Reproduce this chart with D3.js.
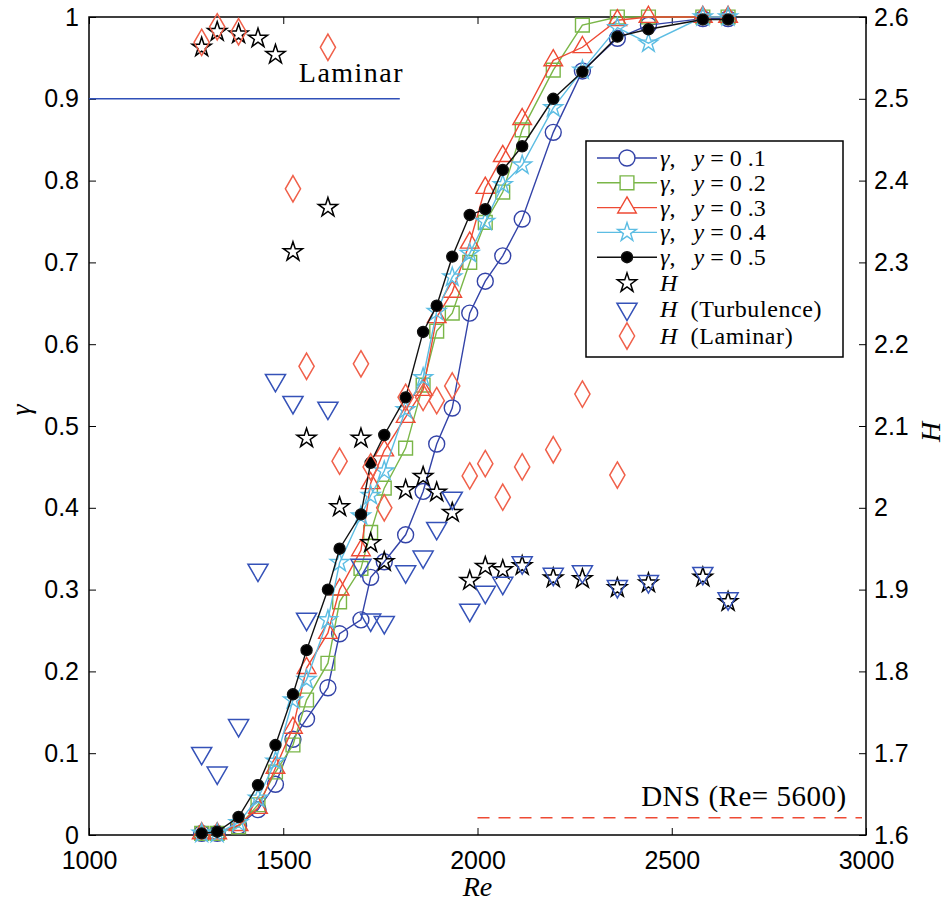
<!DOCTYPE html>
<html><head><meta charset="utf-8">
<script src="https://cdn.jsdelivr.net/npm/d3@7"></script>
<style>body{margin:0;background:#fff}svg{display:block}</style>
</head><body><svg id="c" width="948" height="910"></svg>
<script>
const re = [1290,1330,1385,1435,1480,1525,1560,1615,1645,1700,1725,1760,1815,1860,1895,1935,1980,2020,2065,2115,2195,2270,2360,2440,2580,2645];
const g1 = [0.002,0.002,0.011,0.031,0.062,0.117,0.142,0.180,0.246,0.263,0.315,0.334,0.367,0.420,0.478,0.522,0.638,0.677,0.708,0.753,0.859,0.934,0.974,0.990,0.998,0.998];
const g2 = [0.002,0.002,0.010,0.037,0.077,0.110,0.165,0.210,0.285,0.326,0.370,0.424,0.473,0.550,0.616,0.638,0.700,0.749,0.786,0.862,0.935,0.990,1.0,1.0,1.0,1.0];
const g3 = [0.002,0.002,0.012,0.033,0.082,0.131,0.204,0.247,0.300,0.348,0.430,0.470,0.511,0.544,0.633,0.664,0.724,0.791,0.830,0.875,0.947,0.963,0.996,1.0,1.0,1.0];
const g4 = [0.002,0.002,0.015,0.045,0.090,0.165,0.190,0.263,0.333,0.390,0.415,0.445,0.520,0.559,0.640,0.682,0.711,0.750,0.795,0.819,0.889,0.935,0.987,0.968,1.0,1.0];
const g5 = [0.002,0.004,0.022,0.061,0.110,0.172,0.226,0.300,0.350,0.392,0.455,0.489,0.535,0.615,0.647,0.707,0.758,0.765,0.813,0.842,0.900,0.933,0.976,0.985,0.997,0.997];
const hAll = [2.563,2.582,2.579,2.574,2.554,2.313,2.085,2.367,2.001,2.085,1.957,1.934,2.022,2.038,2.019,1.994,1.911,1.928,1.924,1.929,1.914,1.913,1.902,1.908,1.915,1.885];
const reTurb = [1290,1330,1385,1435,1480,1525,1560,1615,1700,1725,1760,1815,1860,1895,1935,1980,2020,2065,2115,2195,2270,2360,2440,2580,2645];
const hTurb = [1.700,1.676,1.734,1.924,2.156,2.129,1.864,2.122,1.930,1.863,1.860,1.922,1.940,1.975,2.012,1.875,1.897,1.908,1.933,1.919,1.922,1.904,1.910,1.920,1.889];
const reLam = [1290,1330,1385,1525,1560,1615,1645,1700,1725,1760,1815,1860,1895,1935,1980,2020,2065,2115,2195,2270,2360];
const hLam = [2.569,2.588,2.582,2.390,2.173,2.563,2.057,2.176,2.050,2.000,2.135,2.135,2.131,2.149,2.039,2.054,2.013,2.050,2.071,2.139,2.040];
const xTicks = [1000,1500,2000,2500,3000];
const yTicks = [0,0.1,0.2,0.3,0.4,0.5,0.6,0.7,0.8,0.9,1];
const hTicks = [1.6,1.7,1.8,1.9,2.0,2.1,2.2,2.3,2.4,2.5,2.6];
const laminarGamma = 0.9, laminarEnd = 1800;
const dnsH = 1.621, dnsStart = 2000;

const svg = d3.select('#c');
const L=89,R=866,T=17,B=835;
const x = d3.scaleLinear([1000,3000],[L,R]);
const y = d3.scaleLinear([0,1],[B,T]);
const yH = d3.scaleLinear([1.6,2.6],[B,T]);
const tickFont = '"Liberation Sans Narrow","Liberation Sans",Arial,sans-serif';
const serif = '"Liberation Serif","Times New Roman",serif';
const NB = '\u00a0';

const C = {blue:'#3343a8', green:'#7ab648', red:'#ee4a34', cyan:'#5cbde3', black:'#111', tri:'#3552b8', dia:'#f0604a'};

function styleAxis(g){g.select('.domain').remove();g.selectAll('line').attr('stroke','#000').attr('stroke-width',1);
  g.selectAll('text').attr('font-family',tickFont).attr('font-size',25).attr('fill','#000');}
svg.append('g').attr('transform',`translate(0,${B})`).call(d3.axisBottom(x).tickValues(xTicks).tickSize(-7).tickPadding(16).tickFormat(d3.format('d'))).call(styleAxis);
svg.append('g').attr('transform',`translate(0,${T})`).call(d3.axisTop(x).tickValues(xTicks).tickSize(-7).tickFormat('')).call(styleAxis);
svg.append('g').attr('transform',`translate(${L},0)`).call(d3.axisLeft(y).tickValues(yTicks).tickSize(-7).tickPadding(10).tickFormat(d=>String(+d.toFixed(1)))).call(styleAxis);
svg.append('g').attr('transform',`translate(${R},0)`).call(d3.axisRight(yH).tickValues(hTicks).tickSize(-7).tickPadding(8).tickFormat(d=>String(+d.toFixed(1)))).call(styleAxis);
svg.append('rect').attr('x',L).attr('y',T).attr('width',R-L).attr('height',B-T).attr('fill','none').attr('stroke','#000').attr('stroke-width',1.5);

// reference lines
svg.append('line').attr('x1',x(1000)).attr('x2',x(laminarEnd)).attr('y1',y(laminarGamma)).attr('y2',y(laminarGamma)).attr('stroke','#3050b8').attr('stroke-width',1.5);
svg.append('text').attr('x',x(1540)).attr('y',y(0.92)).attr('font-family',serif).attr('font-size',28).attr('letter-spacing',1.5).text('Laminar');
svg.append('line').attr('x1',x(dnsStart)).attr('x2',x(3000)-4).attr('y1',yH(dnsH)).attr('y2',yH(dnsH)).attr('stroke','#ee4a34').attr('stroke-width',1.5).attr('stroke-dasharray','12,9');
svg.append('text').attr('x',x(2950)).attr('y',y(0.036)).attr('text-anchor','end').attr('font-family',serif).attr('font-size',29).attr('letter-spacing',0.5).text('DNS (Re= 5600)');

const sym = (type,size)=>d3.symbol().type(type).size(size)();
const gSeries = [
 {v:g1,c:C.blue,type:d3.symbolCircle,size:200,fill:'#fff'},
 {v:g2,c:C.green,type:d3.symbolSquare,size:190,fill:'#fff'},
 {v:g3,c:C.red,type:d3.symbolTriangle,size:150,fill:'#fff'},
 {v:g4,c:C.cyan,type:d3.symbolStar,size:110,fill:'#fff'},
 {v:g5,c:C.black,type:d3.symbolCircle,size:95,fill:'#000'}
];
const line = d3.line().x(d=>x(d[0])).y(d=>y(d[1]));

function scatter(xs,vs,type,size,color,rot){
  svg.append('g').selectAll('path').data(xs.map((r,i)=>[r,vs[i]])).join('path')
   .attr('d',sym(type,size)).attr('transform',d=>`translate(${x(d[0])},${yH(d[1])})${rot?' rotate(180)':''}`)
   .attr('fill','none').attr('stroke',color).attr('stroke-width',1.5);
}
gSeries.forEach(s=>{
  const pts = re.map((r,i)=>[r,s.v[i]]);
  svg.append('path').attr('d',line(pts)).attr('fill','none').attr('stroke',s.c).attr('stroke-width',1.4);
  svg.append('g').selectAll('path').data(pts).join('path').attr('d',sym(s.type,s.size))
   .attr('transform',d=>`translate(${x(d[0])},${y(d[1])})`).attr('fill',s.fill==='#000'?'#000':'none').attr('stroke',s.c).attr('stroke-width',1.4);
});
scatter(re,hAll,d3.symbolStar,115,'#000',false);
scatter(reTurb,hTurb,d3.symbolTriangle,175,C.tri,true);
scatter(reLam,hLam,d3.symbolDiamond,200,C.dia,false);

// axis titles
svg.append('text').attr('transform','translate(30,410) rotate(-90)').attr('text-anchor','middle').attr('font-family',serif).attr('font-style','italic').attr('font-size',28).text('γ');
svg.append('text').attr('transform','translate(940,432) rotate(-90)').attr('text-anchor','middle').attr('font-family',serif).attr('font-style','italic').attr('font-size',28).text('H');
svg.append('text').attr('x',x(2000)).attr('y',896).attr('text-anchor','middle').attr('font-family',serif).attr('font-style','italic').attr('font-size',28).text('Re');

// legend
const lg = svg.append('g');
lg.append('rect').attr('x',586).attr('y',141).attr('width',257).attr('height',216).attr('fill','#fff').attr('stroke','#000').attr('stroke-width',1.5);
const items = [
 {s:gSeries[0],lab:'0 .1'},{s:gSeries[1],lab:'0 .2'},{s:gSeries[2],lab:'0 .3'},{s:gSeries[3],lab:'0 .4'},{s:gSeries[4],lab:'0 .5'}];
items.forEach((it,i)=>{
  const yy = 158 + i*24.8;
  lg.append('line').attr('x1',597).attr('x2',657).attr('y1',yy).attr('y2',yy).attr('stroke',it.s.c).attr('stroke-width',1.4);
  lg.append('path').attr('d',sym(it.s.type,it.s.size)).attr('transform',`translate(627,${yy})`).attr('fill',it.s.fill==='#000'?'#000':'#fff').attr('stroke',it.s.c).attr('stroke-width',1.4);
  const t = lg.append('text').attr('x',660).attr('y',yy+8).attr('font-family',serif).attr('font-size',24);
  t.append('tspan').attr('font-style','italic').text('γ');
  t.append('tspan').text(','+NB+NB+NB);
  t.append('tspan').attr('font-style','italic').text('y');
  t.append('tspan').text(NB+'='+NB+it.lab.replace(' ',NB));
});
const hItems = [
 {type:d3.symbolStar,size:115,c:'#000',rot:false,lab:''},
 {type:d3.symbolTriangle,size:175,c:C.tri,rot:true,lab:'(Turbulence)'},
 {type:d3.symbolDiamond,size:200,c:C.dia,rot:false,lab:'(Laminar)'}];
hItems.forEach((it,i)=>{
  const yy = [283,309,336][i];
  lg.append('path').attr('d',sym(it.type,it.size)).attr('transform',`translate(627,${yy})${it.rot?' rotate(180)':''}`).attr('fill','none').attr('stroke',it.c).attr('stroke-width',1.5);
  const t = lg.append('text').attr('x',660).attr('y',yy+8).attr('font-family',serif).attr('font-size',24);
  t.append('tspan').attr('font-style','italic').text('H');
  if(it.lab) t.append('tspan').attr('letter-spacing',0.6).text(NB+NB+it.lab);
});
</script></body></html>
